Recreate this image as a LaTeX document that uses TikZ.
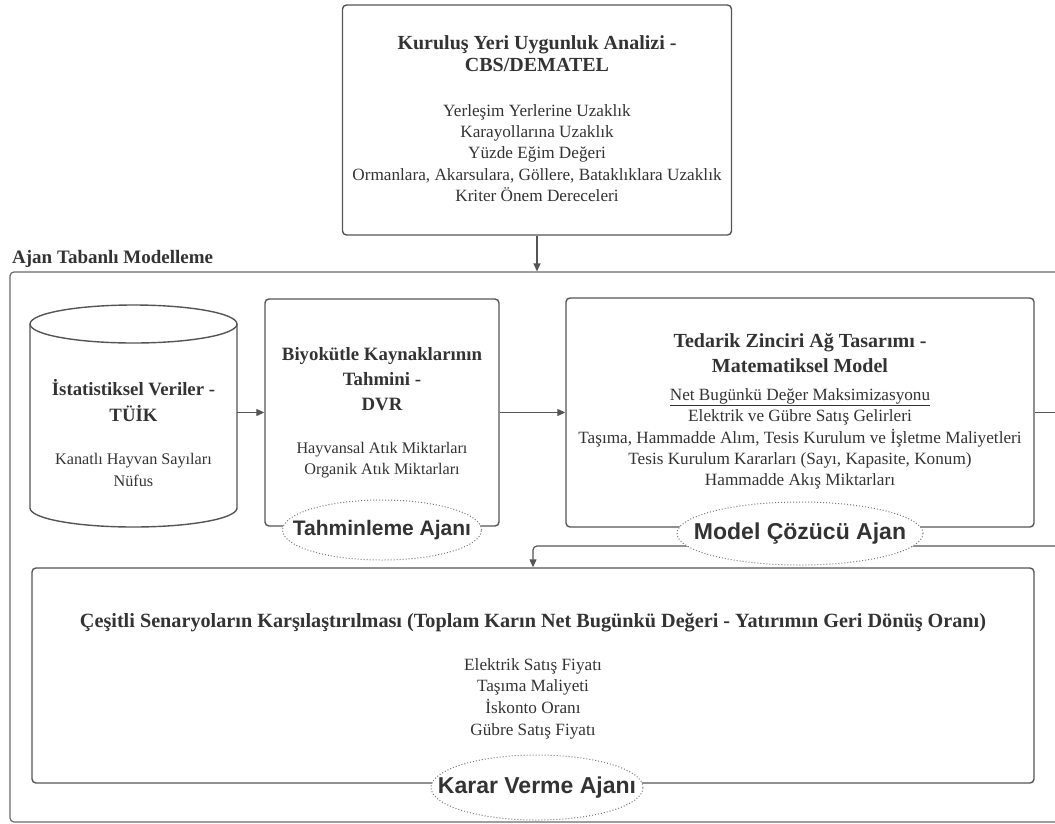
\documentclass[tikz,border=0pt]{standalone}
\usepackage{fontspec}
\setmainfont{Liberation Serif}
\newfontfamily\agentfont{Liberation Sans}
\usetikzlibrary{arrows.meta,shapes.geometric}
\definecolor{linegray}{HTML}{555555}
\definecolor{framegray}{HTML}{6A6A6A}
\definecolor{dotgray}{HTML}{7A7A7A}
\definecolor{textgray}{HTML}{333333}
% large boxes
\newcommand\headfont{\bfseries\fontsize{20}{22}\selectfont}
\newcommand\headfontwide{\bfseries\fontsize{20}{25}\selectfont}
\newcommand\bodyfont{\fontsize{17.2}{21.3}\selectfont}
% small boxes
\newcommand\smallheadmid{\bfseries\fontsize{18.8}{26}\selectfont}
\newcommand\smallheadwide{\bfseries\fontsize{18.8}{25}\selectfont}
\newcommand\smallbody{\fontsize{16.2}{21.3}\selectfont}

\begin{document}
\begin{tikzpicture}[x=1pt,y=-1pt,
  box/.style={draw=linegray, line width=1.4pt, rounded corners=4pt, inner sep=0pt},
  txt/.style={align=center, text=textgray, inner sep=0pt},
  agent/.style={ellipse, draw=dotgray, dotted, line width=1pt, fill=white, inner sep=0pt},
  agentlbl/.style={text=textgray, inner sep=0pt, font=\agentfont\bfseries\fontsize{23}{26}\selectfont},
  conn/.style={draw=linegray, line width=1.2pt},
  arr/.style={conn, -{Triangle[length=8pt,width=7pt]}},
]
\clip (0,0) rectangle (1055,823);

% outer frame of the agent based model (right side runs past the page)
\node[draw=framegray, line width=1.2pt, rounded corners=4pt, minimum width=1065pt,
      minimum height=550pt, inner sep=0pt] (frame) at (542.5,547) {};
\node[anchor=west, text=textgray, font=\bfseries\fontsize{19}{20}\selectfont, inner sep=0pt]
  (frametitle) at (12,259) {Ajan Tabanlı Modelleme};

% site suitability box
\node[box, minimum width=389pt, minimum height=230pt] (site) at (537,120) {};
\node[txt, font=\headfont] (sitehead) at (537,54) {Kuruluş Yeri Uygunluk Analizi -\\CBS/DEMATEL};
\node[txt, font=\bodyfont] (sitebody) at (537,153) {Yerleşim Yerlerine Uzaklık\\Karayollarına Uzaklık\\Yüzde Eğim Değeri\\Ormanlara, Akarsulara, Göllere, Bataklıklara Uzaklık\\Kriter Önem Dereceleri};

% statistical data cylinder
\node[inner sep=0pt, minimum width=207pt, minimum height=222pt] (db) at (133.5,416) {};
\draw[conn, line width=1.4pt] (30,324) -- (30,508) arc[start angle=180, end angle=0, x radius=103.5, y radius=19]
  -- (237,324);
\draw[conn, line width=1.4pt] (133.5,324) ellipse[x radius=103.5, y radius=19];
\node[txt, font=\smallheadmid] (dbhead) at (133.5,401) {İstatistiksel Veriler -\\TÜİK};
\node[txt, font=\smallbody] (dbbody) at (133.5,470) {Kanatlı Hayvan Sayıları\\Nüfus};

% biomass estimation box
\node[box, minimum width=234pt, minimum height=227pt] (est) at (382,412.5) {};
\node[txt, font=\smallheadwide] (esthead) at (382,379) {Biyokütle Kaynaklarının\\Tahmini -\\DVR};
\node[txt, font=\smallbody] (estbody) at (382,460) {Hayvansal Atık Miktarları\\Organik Atık Miktarları};

% supply chain model box
\node[box, minimum width=468pt, minimum height=229pt] (scm) at (800,412.5) {};
\node[txt, font=\headfontwide] (scmhead) at (800,353.5) {Tedarik Zinciri Ağ Tasarımı -\\Matematiksel Model};
\node[txt, font=\bodyfont] (scmbody) at (800,439) {\underline{Net Bugünkü Değer Maksimizasyonu}\\Elektrik ve Gübre Satış Gelirleri\\Taşıma, Hammadde Alım, Tesis Kurulum ve İşletme Maliyetleri\\Tesis Kurulum Kararları (Sayı, Kapasite, Konum)\\Hammadde Akış Miktarları};

% scenario comparison box
\node[box, minimum width=1002pt, minimum height=215pt] (scen) at (533,675.5) {};
\node[txt, font=\bfseries\fontsize{20.2}{21}\selectfont] (scenhead) at (533,623) {Çeşitli Senaryoların Karşılaştırılması (Toplam Karın Net Bugünkü Değeri - Yatırımın Geri Dönüş Oranı)};
\node[txt, font=\fontsize{17.2}{21.7}\selectfont] (scenbody) at (533,698.5) {Elektrik Satış Fiyatı\\Taşıma Maliyeti\\İskonto Oranı\\Gübre Satış Fiyatı};

% connectors
\coordinate (dbout) at (237,412.5);
\coordinate (scmout) at (1060,412.5);
\coordinate (loopin) at (1060,546);
\draw[arr] (site.south) -- (site.south |- frame.north);
\draw[arr] (dbout) -- (est.west);
\draw[arr] (est.east) -- (scm.west);
\draw[conn] (scm.east) -- (scmout);
\draw[arr, rounded corners=4pt] (loopin) -- (loopin -| scen.north) -- (scen.north);

% agents
\node[agent, minimum width=199pt, minimum height=60pt] (ag1) at (382,530) {};
\node[agentlbl, font=\agentfont\bfseries\fontsize{21}{24}\selectfont] (ag1lbl) at (ag1) {Tahminleme Ajanı};
\node[agent, minimum width=246pt, minimum height=63pt] (ag2) at (800,533.5) {};
\node[agentlbl] (ag2lbl) at (ag2) {Model Çözücü Ajan};
\node[agent, minimum width=212pt, minimum height=65pt] (ag3) at (537,787.5) {};
\node[agentlbl] (ag3lbl) at (ag3) {Karar Verme Ajanı};
\end{tikzpicture}
\end{document}
